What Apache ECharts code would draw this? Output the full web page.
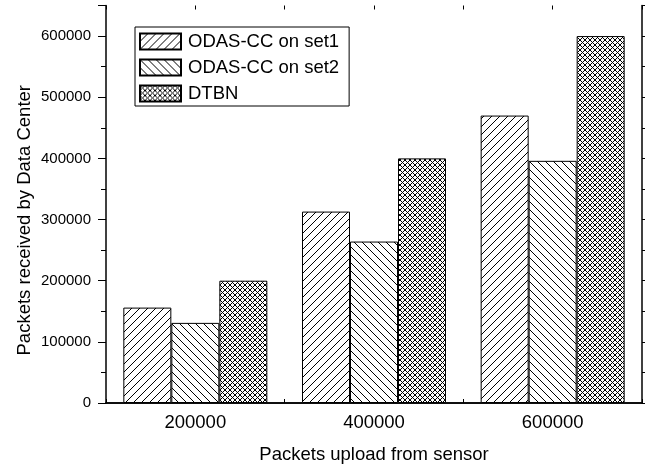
<!DOCTYPE html>
<html>
<head>
<meta charset="utf-8">
<script src="https://cdn.jsdelivr.net/npm/echarts@6/dist/echarts.min.js"></script>
<style>
  html, body { margin: 0; padding: 0; background: #fff; }
  #chart { width: 648px; height: 466px; }
</style>
</head>
<body>
<div id="chart"></div>
<script>
// Packets upload from sensor (categories)
const categories = ['200000', '400000', '600000'];
// Packets received by the data center
const set1Values = [156000, 313000, 470000];
const set2Values = [131000, 264000, 396000];
const dtbnValues = [200000, 400000, 600000];
const seriesNames = ['ODAS-CC on set1', 'ODAS-CC on set2', 'DTBN'];

// Hatch fills built on small repeating canvases
function hatch(size, kinds) {
  const c = document.createElement('canvas');
  c.width = size; c.height = size;
  const g = c.getContext('2d');
  g.fillStyle = '#fff';
  g.fillRect(0, 0, size, size);
  g.strokeStyle = '#000';
  g.lineWidth = 1;
  g.beginPath();
  kinds.forEach(function (k) {
    for (let o = -size; o <= size; o += size) {
      if (k === '/') { g.moveTo(o - 1, size + 1); g.lineTo(o + size + 1, -1); }
      else { g.moveTo(o - 1, -1); g.lineTo(o + size + 1, size + 1); }
    }
  });
  g.stroke();
  return { image: c, repeat: 'repeat' };
}

const fills = [hatch(8, ['/']), hatch(8, ['\\']), hatch(5, ['/', '\\'])];
const valueSets = [set1Values, set2Values, dtbnValues];

const font = 'Liberation Sans, Arial, sans-serif';
const gridBox = { left: 106, right: 6, top: 5.5, bottom: 63, containLabel: false, outerBoundsMode: 'none' };

const chart = echarts.init(document.getElementById('chart'), null, { renderer: 'canvas' });

chart.setOption({
  backgroundColor: '#fff',
  animation: false,
  textStyle: { fontFamily: font, color: '#000' },
  legend: {
    left: 135, top: 27,
    orient: 'vertical',
    icon: 'rect',
    itemWidth: 41, itemHeight: 16, itemGap: 7,
    padding: [5, 10, 3, 4],
    borderColor: '#000', borderWidth: 1,
    textStyle: { fontFamily: font, fontSize: 18.5, color: '#000', padding: [0, 0, 0, 2] },
    data: seriesNames
  },
  grid: [
    Object.assign({}, gridBox),
    Object.assign({}, gridBox)
  ],
  xAxis: [
    {
      type: 'category', gridIndex: 0, data: categories, position: 'bottom',
      name: 'Packets upload from sensor', nameLocation: 'middle', nameGap: 42,
      nameMoveOverlap: false,
      nameTextStyle: { fontFamily: font, fontSize: 18.5, color: '#000' },
      axisLine: { show: true, lineStyle: { color: '#000', width: 1.5 } },
      axisTick: { show: false },
      axisLabel: { fontFamily: font, fontSize: 18.5, color: '#000', margin: 10 },
      splitLine: { show: false }
    },
    {
      type: 'category', gridIndex: 0, data: categories, position: 'top',
      axisLine: { show: true, lineStyle: { color: '#000', width: 1.5 } },
      axisTick: { show: false }, axisLabel: { show: false }, splitLine: { show: false }
    },
    // tick marks at category centres and boundaries, bottom and top
    {
      type: 'value', gridIndex: 1, min: 0, max: 6, interval: 1, position: 'bottom',
      axisLine: { show: false },
      axisTick: { show: true, inside: true, length: 4, lineStyle: { color: '#000', width: 1 } },
      axisLabel: { show: false }, splitLine: { show: false }
    },
    {
      type: 'value', gridIndex: 1, min: 0, max: 6, interval: 1, position: 'top',
      axisLine: { show: false },
      axisTick: { show: true, inside: true, length: 4, lineStyle: { color: '#000', width: 1 } },
      axisLabel: { show: false }, splitLine: { show: false }
    }
  ],
  yAxis: [
    {
      type: 'value', gridIndex: 0, min: 0, max: 650000, interval: 100000, position: 'left',
      name: 'Packets received by Data Center', nameLocation: 'middle', nameGap: 72,
      nameMoveOverlap: false,
      nameTextStyle: { fontFamily: font, fontSize: 18.5, color: '#000', padding: [0, 32, 0, 0] },
      axisLine: { show: true, lineStyle: { color: '#000', width: 1.5 } },
      axisTick: { show: true, inside: false, length: 8, lineStyle: { color: '#000', width: 1 } },
      minorTick: { show: true, splitNumber: 2, length: 5, lineStyle: { color: '#000', width: 1 } },
      axisLabel: {
        fontFamily: font, fontSize: 15, color: '#000', margin: 15, showMaxLabel: false,
        formatter: function (v) { return String(v); }
      },
      splitLine: { show: false }
    },
    {
      type: 'value', gridIndex: 0, min: 0, max: 650000, interval: 100000, position: 'right',
      axisLine: { show: true, lineStyle: { color: '#000', width: 1.5 } },
      axisTick: { show: true, inside: false, length: 3, lineStyle: { color: '#000', width: 1 } },
      minorTick: { show: true, splitNumber: 2, length: 3, lineStyle: { color: '#000', width: 1 } },
      axisLabel: { show: false },
      splitLine: { show: false }
    },
    {
      type: 'value', gridIndex: 1, min: 0, max: 1, show: false
    }
  ],
  series: seriesNames.map(function (name, i) {
    return {
      name: name,
      type: 'bar',
      xAxisIndex: 0, yAxisIndex: 0,
      data: valueSets[i],
      barWidth: 48,
      barGap: '0%',
      itemStyle: { color: fills[i], borderColor: '#000', borderWidth: 1 },
      emphasis: { disabled: true }
    };
  })
});
</script>
</body>
</html>
